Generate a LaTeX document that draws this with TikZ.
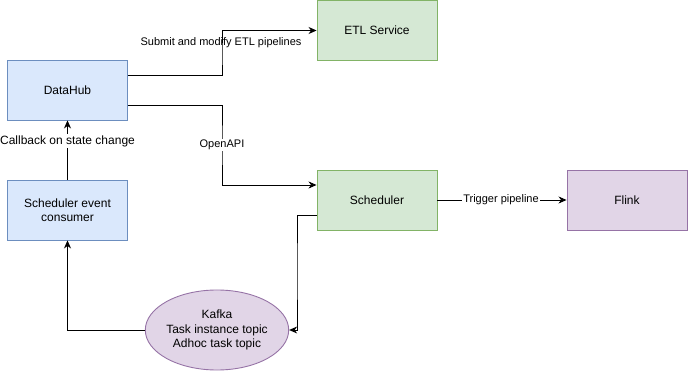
\documentclass[tikz,border=0pt]{standalone}
\usepackage{fontspec}
\setmainfont{Liberation Sans}
\usetikzlibrary{arrows.meta,shapes.geometric}
\definecolor{bfill}{HTML}{DAE8FC}\definecolor{bline}{HTML}{6C8EBF}
\definecolor{gfill}{HTML}{D5E8D4}\definecolor{gline}{HTML}{82B366}
\definecolor{pfill}{HTML}{E1D5E7}\definecolor{pline}{HTML}{9673A6}
\begin{document}
\begin{tikzpicture}[x=1pt,y=-1pt,
  box/.style={draw, line width=0.9pt, minimum width=120pt, minimum height=60pt, inner sep=0pt, font=\fontsize{12}{14.5}\selectfont, align=center},
  bluebox/.style={box, fill=bfill, draw=bline},
  greenbox/.style={box, fill=gfill, draw=gline},
  purplebox/.style={box, fill=pfill, draw=pline},
  conn/.style={line width=0.9pt, -{Stealth[length=8pt,width=7pt,inset=2.5pt]}},
  lbl/.style={font=\fontsize{11}{13}\selectfont, fill=white, inner sep=1pt}]
\useasboundingbox (0,0) rectangle (688,371);
\node[bluebox] (dh) at (67.5,90) {DataHub};
\node[bluebox] (sec) at (67.5,210) {Scheduler event\\consumer};
\node[greenbox] (etl) at (377,30.5) {ETL Service};
\node[greenbox] (sch) at (377,200) {Scheduler};
\node[purplebox] (fl) at (627,200) {Flink};
\node[ellipse, draw=pline, fill=pfill, line width=0.9pt, minimum width=120pt, minimum height=80pt, inner sep=0pt, align=center, font=\fontsize{12}{14.5}\selectfont] (kf) at (217,330) {Kafka\\Task instance topic\\Adhoc task topic};
\draw[conn] (dh.east |- 0,75) -| (222,55) |- (etl.west);
\node[lbl, fill=none] (l1) at (221,43) {Submit and modify ETL pipelines};
\draw[conn] (dh.east |- 0,105) -| (222,145) |- (sch.west |- 0,185);
\node[lbl] (l2) at (222,145) {OpenAPI};
\draw[conn] (sch.west |- 0,215) -| (297,270) |- (kf.east);
\draw[conn] (kf.west) -| (sec.south);
\draw[conn] (sec.north) -- (dh.south);
\node[lbl, font=\fontsize{12}{14}\selectfont] (l3) at (67.5,141) {Callback on state change};
\draw[conn] (sch.east) -- (fl.west);
\node[lbl] (l4) at (501,200) {Trigger pipeline};
\end{tikzpicture}
\end{document}
